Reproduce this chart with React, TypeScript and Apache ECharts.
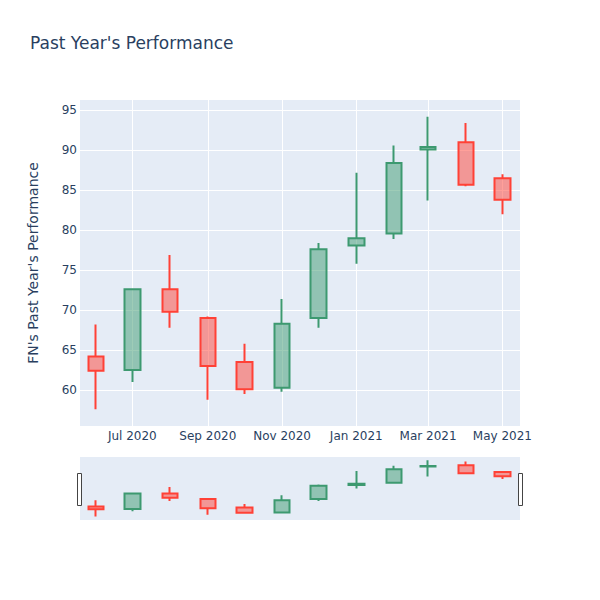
import React, { useEffect, useRef } from "react";
import * as echarts from "echarts";

// Monthly candles: [year, monthIndex] of the first day of the month
const months: [number, number][] = [
  [2020, 5], [2020, 6], [2020, 7], [2020, 8], [2020, 9], [2020, 10],
  [2020, 11], [2021, 0], [2021, 1], [2021, 2], [2021, 3], [2021, 4],
];
const opens = [64.2, 62.5, 72.6, 69.0, 63.5, 60.3, 69.0, 78.1, 79.6, 90.1, 91.0, 86.5];
const closes = [62.4, 72.6, 69.8, 63.0, 60.1, 68.3, 77.6, 79.0, 88.4, 90.4, 85.7, 83.8];
const lows = [57.6, 61.0, 67.8, 58.8, 59.5, 59.8, 67.8, 75.8, 78.9, 83.7, 85.5, 82.0];
const highs = [68.2, 72.7, 76.9, 69.2, 65.8, 71.4, 78.4, 87.2, 90.6, 94.2, 93.4, 87.0];

const yTicks = [60, 65, 70, 75, 80, 85, 90, 95];
const xTickMonths: [number, number][] = [
  [2020, 6], [2020, 8], [2020, 10], [2021, 0], [2021, 2], [2021, 4],
];
const monthNames = ["Jan", "Feb", "Mar", "Apr", "May", "Jun", "Jul", "Aug", "Sep", "Oct", "Nov", "Dec"];

const FONT = "DejaVu Sans";
const TEXT = "#2a3f5f";

export default function App() {
  const ref = useRef<HTMLDivElement>(null);
  useEffect(() => {
    if (!ref.current) return;
    const chart = echarts.init(ref.current, undefined, { renderer: "svg" });
    const data = months.map((m, i) => [
      Date.UTC(m[0], m[1], 1),
      opens[i],
      closes[i],
      lows[i],
      highs[i],
    ]);
    const xTicks = xTickMonths.map((m) => Date.UTC(m[0], m[1], 1));
    const xMin = Date.UTC(2020, 4, 19);
    const xMax = Date.UTC(2021, 4, 15, 12);
    const fmt = (v: number) => {
      const d = new Date(v);
      return monthNames[d.getUTCMonth()] + " " + d.getUTCFullYear();
    };
    const itemStyle = {
      color: "rgba(61,153,112,0.5)",
      color0: "rgba(255,65,54,0.5)",
      borderColor: "#3D9970",
      borderColor0: "#FF4136",
      borderWidth: 2,
    };
    chart.setOption({
      animation: false,
      backgroundColor: "#ffffff",
      textStyle: { fontFamily: FONT },
      title: {
        text: "Past Year's Performance",
        left: 30,
        top: 34,
        padding: 0,
        textStyle: { fontFamily: FONT, fontSize: 17, fontWeight: "normal", color: TEXT },
      },
      grid: [
        { left: 80, top: 100, width: 440, height: 326, show: true, backgroundColor: "#E5ECF6", borderWidth: 0 },
        { left: 80, top: 457, width: 440, height: 63, show: true, backgroundColor: "#E5ECF6", borderWidth: 0 },
      ],
      xAxis: [
        {
          type: "value",
          gridIndex: 0,
          min: xMin,
          max: xMax,
          axisLine: { show: false },
          axisTick: { show: false, customValues: xTicks },
          axisLabel: {
            customValues: xTicks,
            formatter: (v: number) => fmt(v),
            color: TEXT,
            fontSize: 12,
            fontFamily: FONT,
            margin: 4,
          },
          splitLine: { show: true, lineStyle: { color: "#ffffff", width: 1 } },
        },
        {
          type: "value",
          gridIndex: 1,
          min: xMin,
          max: xMax,
          axisLine: { show: false },
          axisTick: { show: false },
          axisLabel: { show: false },
          splitLine: { show: false },
        },
      ],
      yAxis: [
        {
          type: "value",
          gridIndex: 0,
          min: 55.5,
          max: 96.29,
          name: "FN's Past Year's Performance",
          nameLocation: "middle",
          nameGap: 40,
          nameTextStyle: { fontFamily: FONT, fontSize: 14, color: TEXT },
          axisLine: { show: false },
          axisTick: { show: false, customValues: yTicks },
          axisLabel: {
            customValues: yTicks,
            color: TEXT,
            fontSize: 12,
            fontFamily: FONT,
            margin: 3,
          },
          splitLine: { show: true, lineStyle: { color: "#ffffff", width: 1 } },
        },
        {
          type: "value",
          gridIndex: 1,
          min: 55.4,
          max: 96.3,
          axisLine: { show: false },
          axisTick: { show: false },
          axisLabel: { show: false },
          splitLine: { show: false },
        },
      ],
      series: [
        {
          type: "candlestick",
          xAxisIndex: 0,
          yAxisIndex: 0,
          data,
          encode: { x: 0, y: [1, 2, 3, 4] },
          barWidth: 16,
          itemStyle,
        },
        {
          type: "candlestick",
          xAxisIndex: 1,
          yAxisIndex: 1,
          data,
          encode: { x: 0, y: [1, 2, 3, 4] },
          barWidth: 16,
          itemStyle,
          silent: true,
        },
      ],
      graphic: [
        {
          type: "rect",
          shape: { x: 77.5, y: 473.5, width: 4, height: 32 },
          style: { fill: "#ffffff", stroke: "#444444", lineWidth: 1 },
        },
        {
          type: "rect",
          shape: { x: 518.5, y: 473.5, width: 4, height: 32 },
          style: { fill: "#ffffff", stroke: "#444444", lineWidth: 1 },
        },
      ],
    });
    return () => chart.dispose();
  }, []);
  return <div ref={ref} style={{ width: 600, height: 600, position: "absolute", left: 0, top: 0 }} />;
}
